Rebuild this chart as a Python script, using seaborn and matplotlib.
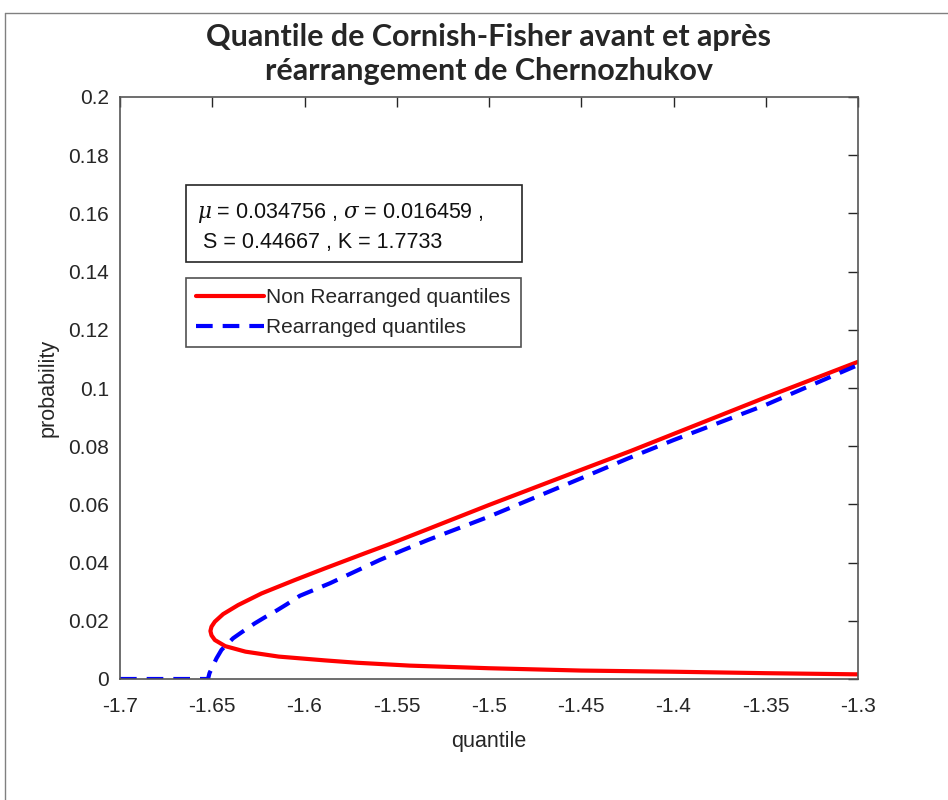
import numpy as np
import matplotlib
matplotlib.use("Agg")
import matplotlib.pyplot as plt
import seaborn as sns
from matplotlib.lines import Line2D
from matplotlib.patches import Rectangle

# Quantile de Cornish-Fisher (non réarrangé), dans l'ordre des probabilités
cf_quantile = [-1.300, -1.350, -1.400, -1.450, -1.500, -1.543, -1.572, -1.589, -1.614,
               -1.632, -1.643, -1.6486, -1.6504, -1.651, -1.6504, -1.6486, -1.6441, -1.636,
               -1.6233, -1.6053, -1.589, -1.5673, -1.5537, -1.532, -1.500, -1.450, -1.4234,
               -1.400, -1.350, -1.300]
cf_prob = [0.0016, 0.0020, 0.0025, 0.0029, 0.0037, 0.0046, 0.0056, 0.0064, 0.0077,
           0.0094, 0.0113, 0.0134, 0.0150, 0.0165, 0.0180, 0.0197, 0.0223, 0.0254,
           0.0294, 0.0340, 0.0380, 0.0432, 0.0464, 0.0518, 0.0598, 0.0719, 0.0783,
           0.0842, 0.0968, 0.1090]

# Quantiles réarrangés (Chernozhukov)
rq_quantile = [-1.700, -1.6523, -1.6515, -1.6477, -1.645, -1.6387, -1.6342, -1.627,
               -1.6215, -1.6152, -1.6098, -1.6025, -1.5862, -1.5727, -1.5592, -1.5465,
               -1.533, -1.500, -1.450, -1.425, -1.400, -1.350, -1.300]
rq_prob = [0.0, 0.0, 0.0020, 0.0071, 0.0100, 0.0140, 0.0160, 0.0191,
           0.0212, 0.0235, 0.0256, 0.0286, 0.0329, 0.0369, 0.0409, 0.0443,
           0.0478, 0.0558, 0.0690, 0.0757, 0.0821, 0.0942, 0.1079]

x_ticks = [-1.7, -1.65, -1.6, -1.55, -1.5, -1.45, -1.4, -1.35, -1.3]
x_labels = ["-1.7", "-1.65", "-1.6", "-1.55", "-1.5", "-1.45", "-1.4", "-1.35", "-1.3"]
y_ticks = [0, 0.02, 0.04, 0.06, 0.08, 0.1, 0.12, 0.14, 0.16, 0.18, 0.2]
y_labels = ["0", "0.02", "0.04", "0.06", "0.08", "0.1", "0.12", "0.14", "0.16", "0.18", "0.2"]

sns.set_style("white")
plt.rcParams['font.family'] = ['Liberation Sans', 'DejaVu Sans']
plt.rcParams['mathtext.fontset'] = 'dejavuserif'

fig = plt.figure(figsize=(9.48, 8), dpi=100)
ax = fig.add_axes([120 / 948, 1 - 679 / 800, 738 / 948, 582 / 800])

sns.lineplot(x=cf_quantile, y=cf_prob, sort=False, estimator=None, color="#ff0000",
             linewidth=3, ax=ax, label="Non Rearranged quantiles")
sns.lineplot(x=rq_quantile, y=rq_prob, sort=False, estimator=None, color="#0000ff",
             linewidth=3, ax=ax, label="Rearranged quantiles")
ax.lines[1].set_dashes((4, 2.4))

ax.set_xlim(-1.7, -1.3)
ax.set_ylim(0, 0.2)
ax.set_xticks(x_ticks)
ax.set_xticklabels(x_labels)
ax.set_yticks(y_ticks)
ax.set_yticklabels(y_labels)
ax.tick_params(direction="in", length=7, width=1, colors="#262626", labelsize=15,
               top=True, right=True, labelcolor="#262626")
ax.tick_params(axis="x", pad=13)
ax.tick_params(axis="y", pad=8)
for s in ax.spines.values():
    s.set_color("#555555")
    s.set_linewidth(1.2)

ax.set_xlabel("quantile", fontsize=15.5, color="#262626", labelpad=11)
ax.set_ylabel("probability", fontsize=15.5, color="#262626", labelpad=7)

ax.set_title("Quantile de Cornish-Fisher avant et après\nréarrangement de Chernozhukov",
             fontsize=22, fontweight="bold", family=["Lato", "DejaVu Sans"],
             linespacing=1.27, pad=12)

leg = ax.legend(loc="upper left", bbox_to_anchor=(66 / 738, 1 - 181 / 582),
                fontsize=15, frameon=True, fancybox=False, handlelength=3.25,
                handletextpad=0.1, borderpad=0.5, labelspacing=0.5, borderaxespad=0)
leg.get_frame().set_edgecolor("#262626")
leg.get_frame().set_linewidth(1.2)

# boîte des paramètres
fig.add_artist(Rectangle((186 / 948, 1 - 262 / 800), 336 / 948, 77 / 800,
                         transform=fig.transFigure, facecolor="white",
                         edgecolor="#262626", linewidth=1.2))
fig.text(197 / 948, 1 - 227 / 800,
         "$\\mu$ = 0.034756 , $\\sigma$ = 0.016459 ,\n S = 0.44667 , K = 1.7733",
         fontsize=15.5, va="center", ha="left", linespacing=1.45, color="#111111")

# cadre de la figure
fig.add_artist(Line2D([5 / 948, 5 / 948], [0, 1 - 13 / 800], transform=fig.transFigure,
                      color="#808080", linewidth=1))
fig.add_artist(Line2D([5 / 948, 1], [1 - 13 / 800, 1 - 13 / 800], transform=fig.transFigure,
                      color="#808080", linewidth=1))

fig.savefig("out.png", dpi=100)
